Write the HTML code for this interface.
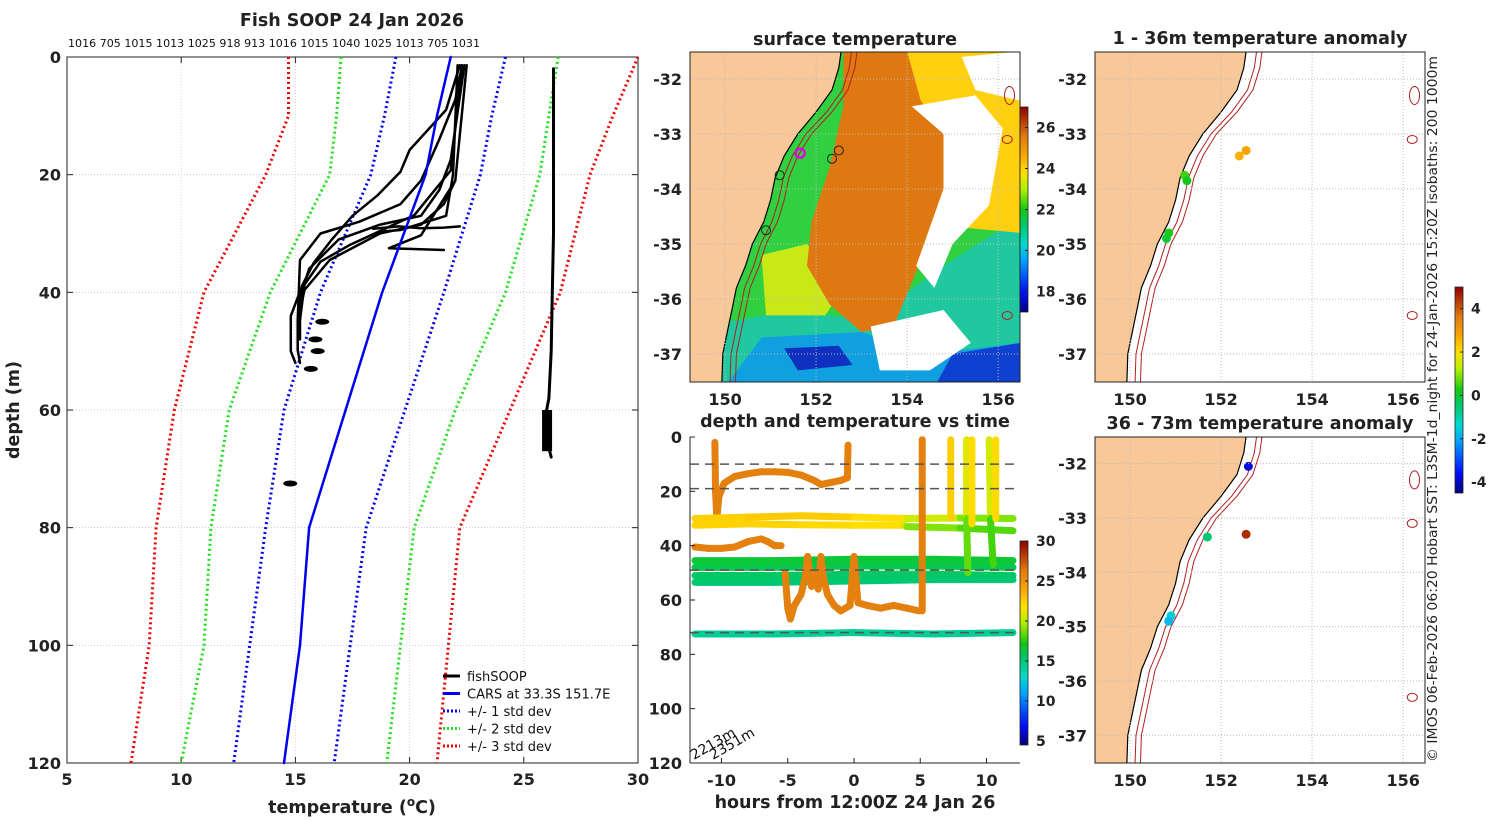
<!DOCTYPE html>
<html><head><meta charset="utf-8">
<style>
html,body{margin:0;padding:0;background:#fff;}
svg{display:block;font-family:"DejaVu Sans","Liberation Sans",sans-serif;}
.t{font-weight:bold;font-size:17.5px;fill:#222;}
.tk{font-weight:bold;font-size:16px;fill:#222;}
</style></head><body>
<svg id="fig" width="1500" height="820" viewBox="0 0 1500 820" xmlns="http://www.w3.org/2000/svg">
<defs>
<linearGradient id="jet" x1="0" y1="1" x2="0" y2="0">
<stop offset="0" stop-color="#000080"/><stop offset="0.1" stop-color="#0010ff"/><stop offset="0.25" stop-color="#00a0ff"/><stop offset="0.33" stop-color="#00d8d0"/><stop offset="0.42" stop-color="#00c870"/><stop offset="0.5" stop-color="#14c814"/><stop offset="0.6" stop-color="#b4f000"/><stop offset="0.68" stop-color="#ffe000"/><stop offset="0.76" stop-color="#f8a800"/><stop offset="0.86" stop-color="#e07810"/><stop offset="1" stop-color="#900000"/>
</linearGradient>
<clipPath id="cMap1"><rect x="690" y="52" width="330" height="330"/></clipPath>
<clipPath id="cMap2"><rect x="1095" y="52" width="330" height="330"/></clipPath>
<clipPath id="cMap3"><rect x="1095" y="437" width="330" height="326"/></clipPath>
</defs>
<g id="left"></g>
<g id="sst"></g>
<g id="ts"></g>
<g id="an1"></g>
<g id="an2"></g>
<text transform="translate(1437,762) rotate(-90)" font-size="13" fill="#222" textLength="706" lengthAdjust="spacingAndGlyphs">© IMOS 06-Feb-2026 06:20 Hobart SST: L3SM-1d_night for 24-Jan-2026 15:20Z isobaths: 200  1000m</text>
</svg>
<script>
// ---------- data: profile panel ----------
const depthLevels=[0,10,20,40,60,80,100,120];
const carsTemp=[21.8,21.2,20.7,18.8,17.2,15.6,15.2,14.5];
const plus1=[24.2,23.6,23.1,21.5,19.8,18.1,17.4,16.7];
const minus1=[19.4,18.9,18.3,16.1,14.5,13.7,13.0,12.3];
const plus2=[26.5,26.1,25.7,24.2,22.0,20.2,19.6,19.0];
const minus2=[17.0,16.8,16.5,13.9,12.1,11.3,11.0,10.0];
const plus3=[30.0,28.9,27.9,26.6,24.4,22.2,21.7,21.2];
const minus3=[14.7,14.7,13.7,11.0,9.7,8.9,8.6,7.8];
const profA_t=[22.2,21.6,20.0,19.6,18.6,17.5,16.6,15.8,15.3,14.8,14.8,15.0];
const profA_d=[1.4,9,15.8,19.5,23.5,27,31,35,38.8,44,50,52];
const profB_t=[22.3,22.0,21.3,20.5,19.6,17.8,16.1,15.2,15.1,15.1,15.2];
const profB_d=[1.4,7.3,14,21,25,28,30,34.5,44.7,49.8,52];
const profC_t=[22.4,21.8,21.3,20.5,18.7,16.9,15.6,15.2,15.1];
const profC_d=[1.4,17.5,22.6,27,28.5,31,36,41,46];
const profD_t=[22.5,22.0,21.5,20.5,18.7,16.5,15.4,15.2,15.2];
const profD_d=[1.4,21,25,28.5,30,34.5,39.6,43,48];
const profE_t=[22.3,21.8,20.2,17.4,16.1,15.4,15.2];
const profE_d=[1.4,19.3,26.9,31.9,34.8,38.7,44.7];
const profF_t=[22.1,21.9,21.6,19.6,18.7];
const profF_d=[1.4,20,27,29.4,29.7];
const profG_t=[22.0,20.5,19.1,21.5];
const profG_d=[21,30.3,32.5,32.8];
const profH_t=[18.4,19.5,20.5,21.5,22.2];
const profH_d=[29.2,28.8,29.1,29.0,28.8];
const vertDepths=[2,10,20,30,40,50,58,62,65,68];
const vertTemps=[26.3,26.3,26.3,26.3,26.25,26.2,26.1,25.9,26.0,26.2];
const blobT=[16.0,15.7,15.8,15.5,14.6];
const blobD=[45,48,50,53,72.5];
const topLabels="1016 705 1015 1013 1025 918 913 1016 1015 1040 1025 1013 705 1031";
const tempTicks=[5,10,15,20,25,30];
const depthTicks=[0,20,40,60,80,100,120];

// ---------- data: time series ----------
const hourTicks=[-10,-5,0,5,10];
const tsDepthTicks=[0,20,40,60,80,100,120];
const tsCbTicks=[5,10,15,20,25,30];
const sstCbTicks=[18,20,22,24,26];
const anCbTicks=[-4,-2,0,2,4];
const tsSeries=[
 {h:[-10.5,-10.45,-10.35,-10.2,-9.8,-9,-8,-7,-6,-5,-4,-3,-2.5,-2,-1,-0.5,-0.45],d:[2,20,30,22,17,14.5,13.5,12.8,12.8,13,14,16,17.5,17,16,15,3],t:26},
 {h:[-12,-8,-4,0,4,8,12],d:[30,29.5,29,29.5,30,29.8,30],t:[22.3,22.5,22.8,22.3,21.5,19.5,18.5]},
 {h:[-12,-8,-4,0,3.8,4,8,12],d:[32.5,32,32.3,32.5,32.5,33,33.5,34.5],t:[22.3,22.4,22.2,22.0,21.8,19.5,18.5,18]},
 {h:[-12,-11,-10,-9,-8,-7,-6.5,-6,-5.5],d:[40.5,41,41,40.5,38.5,37.5,38.5,40,40],t:26},
 {h:[-12,-6,0,6,12],d:[45.5,45.5,45,45,45.5],t:16.5},
 {h:[-12,-6,0,6,12],d:[48,48,47.5,47.5,48],t:16},
 {h:[-12,-6,0,6,12],d:[51,51,50.5,50.5,51],t:15.5},
 {h:[-12,-6,0,6,12],d:[53.5,53.5,53,52.5,52.5],t:15.2},
 {h:[-5.2,-5,-4.8,-4.5,-4,-3.7,-3.5,-3.2,-3,-2.7,-2.5,-2.3,-2,-1.5,-1,-0.3,0,0.3,1,2,3,4,4.9],d:[50,63,67,62,58,52,44,55,50,56,44,52,58,62,64,62,44,61,62,63,62,63,64],t:26},
 {h:[-12,-6,0,6,12],d:[72.5,72.5,72,72.5,72],t:14.3},
 {h:[5.15,5.15],d:[1,64],t:26},
 {h:[7.3,7.3],d:[1,30],t:22.5},
 {h:[8.5,8.5,8.6],d:[1,30,50],t:[22,20,17]},
 {h:[8.9,8.9],d:[1,32],t:22},
 {h:[10.2,10.3,10.5],d:[1,30,47],t:[22.5,19,17]},
 {h:[10.7,10.7],d:[1,30],t:22}
];
const tsDashes=[10,19,49,72];

// ---------- data: maps ----------
const coastLat=[-31.5,-31.8,-32.2,-32.6,-33.0,-33.4,-33.8,-34.2,-34.6,-35.0,-35.4,-35.8,-36.2,-36.6,-37.0,-37.5];
const coastLon=[152.55,152.5,152.35,152.0,151.6,151.3,151.1,151.0,150.85,150.6,150.45,150.25,150.15,150.05,149.95,149.93];
const anom1Lon=[151.2,151.25,150.85,150.8,152.4,152.55];
const anom1Lat=[-33.75,-33.85,-34.8,-34.9,-33.4,-33.3];
const anom1Val=[0.5,0.2,0.3,0.0,2.6,2.8];
const anom2Lon=[152.6,151.7,152.55,150.9,150.85];
const anom2Lat=[-32.05,-33.35,-33.3,-34.8,-34.9];
const anom2Val=[-3.8,-0.5,4.5,-1.5,-1.8];
const sstCircLon=[151.65,152.35,152.5,151.2,150.9];
const sstCircLat=[-33.35,-33.45,-33.3,-33.75,-34.75];

const NS="http://www.w3.org/2000/svg";
function mk(tag,attrs,parent){const e=document.createElementNS(NS,tag);for(const k in attrs)e.setAttribute(k,attrs[k]);if(parent)parent.appendChild(e);return e;}
function jet(t,lo,hi){
 const stops=[[0,[0,0,128]],[0.1,[0,16,255]],[0.25,[0,160,255]],[0.33,[0,216,208]],[0.42,[0,200,112]],[0.5,[20,200,20]],[0.6,[180,240,0]],[0.68,[255,224,0]],[0.76,[248,168,0]],[0.86,[224,120,16]],[1,[144,0,0]]];
 let f=(t-lo)/(hi-lo);f=Math.max(0,Math.min(1,f));
 for(let i=1;i<stops.length;i++){if(f<=stops[i][0]){const a=stops[i-1],b=stops[i],u=(f-a[0])/(b[0]-a[0]);const c=a[1].map((v,j)=>Math.round(v+(b[1][j]-v)*u));return `rgb(${c})`;}}
 return 'rgb(144,0,0)';
}

// ---------- profile panel ----------
(function(){
 const g=document.getElementById('left');
 const X0=67,X1=638,Y0=57,Y1=763;
 const sx=t=>X0+(t-5)/25*(X1-X0), sy=d=>Y0+d/120*(Y1-Y0);
 let e=mk('rect',{x:X0,y:Y0,width:X1-X0,height:Y1-Y0,fill:'#fff',stroke:'#222','stroke-width':1},g);
 
 tempTicks.forEach(t=>{
  if(t>5&&t<30){e=mk('line',{x1:sx(t),x2:sx(t),y1:Y0,y2:Y1,stroke:'#f0c8c8','stroke-width':1,'stroke-dasharray':'1,2'},g);
   }
  mk('line',{x1:sx(t),x2:sx(t),y1:Y1,y2:Y1-6,stroke:'#222'},g);mk('line',{x1:sx(t),x2:sx(t),y1:Y0,y2:Y0+6,stroke:'#222'},g);
  e=mk('text',{x:sx(t),y:Y1+22,'text-anchor':'middle',class:'tk'},g);e.textContent=t;
  
 });
 depthTicks.forEach(d=>{
  if(d>0&&d<120){e=mk('line',{x1:X0,x2:X1,y1:sy(d),y2:sy(d),stroke:'#c8c8f0','stroke-width':1,'stroke-dasharray':'1,2'},g);
   }
  mk('line',{x1:X0,x2:X0+6,y1:sy(d),y2:sy(d),stroke:'#222'},g);mk('line',{x1:X1,x2:X1-6,y1:sy(d),y2:sy(d),stroke:'#222'},g);
  e=mk('text',{x:X0-6,y:sy(d)+6,'text-anchor':'end',class:'tk'},g);e.textContent=d;
  
 });
 e=mk('text',{x:352,y:26,'text-anchor':'middle',class:'t'},g);e.textContent='Fish SOOP 24 Jan 2026';
 
 e=mk('text',{x:68,y:47,'font-size':'10.5',fill:'#111',textLength:'412',lengthAdjust:'spacingAndGlyphs'},g);e.textContent=topLabels;
 
 e=mk('text',{x:352,y:813,'text-anchor':'middle',class:'t'},g);e.innerHTML='temperature (<tspan font-size="12" dy="-7">o</tspan><tspan dy="7">C)</tspan>';
 
 e=mk('text',{transform:`translate(19,410) rotate(-90)`,'text-anchor':'middle',class:'t'},g);e.textContent='depth (m)';
 
 function line(ts,ds,col,w,dash,name){const p=ts.map((t,i)=>sx(t).toFixed(1)+','+sy(ds[i]).toFixed(1)).join(' ');
  const a={points:p,fill:'none',stroke:col,'stroke-width':w,'stroke-linejoin':'round','stroke-linecap':'round'};if(dash){a['stroke-dasharray']=dash;a['stroke-linecap']='butt';}
  const el=mk('polyline',a,g);return el;}
 line(minus3,depthLevels,'#f00000',3,'2,3','minus-3-std-line');line(plus3,depthLevels,'#f00000',3,'2,3','plus-3-std-line');
 line(minus2,depthLevels,'#20e020',3,'2,3','minus-2-std-line');line(plus2,depthLevels,'#20e020',3,'2,3','plus-2-std-line');
 line(minus1,depthLevels,'#0000f0',3,'2,3','minus-1-std-line');line(plus1,depthLevels,'#0000f0',3,'2,3','plus-1-std-line');
 [[profA_t,profA_d],[profB_t,profB_d],[profC_t,profC_d],[profD_t,profD_d],[profE_t,profE_d],[profF_t,profF_d],[profG_t,profG_d],[profH_t,profH_d]].forEach(p=>line(p[0],p[1],'#000',2.5,null,'fishsoop-profile'));
 line(vertTemps,vertDepths,'#000',3,null,'fishsoop-profile-offshore');
 blobT.forEach((t,i)=>{e=mk('ellipse',{cx:sx(t)+4,cy:sy(blobD[i]),rx:7,ry:3,fill:'#000'},g);});
 e=mk('rect',{x:sx(25.8),y:sy(60),width:10,height:sy(67)-sy(60),fill:'#000'},g);
 line(carsTemp,depthLevels,'#0000f0',2.5,null,'cars-line');
 const L=mk('g',{},g);
 const items=[['fishSOOP','#000',null],['CARS at 33.3S 151.7E','#0000f0',null],['+/- 1 std dev','#0000f0','2,2'],['+/- 2 std dev','#20e020','2,2'],['+/- 3 std dev','#f00000','2,2']];
 items.forEach((it,i)=>{const y=676+i*17.5;const a={x1:443,x2:460,y1:y,y2:y,stroke:it[1],'stroke-width':3};if(it[2])a['stroke-dasharray']=it[2];
  let s=mk('line',a,L);
  let t=mk('text',{x:467,y:y+5,'font-size':'13',fill:'#111'},L);t.textContent=it[0];});
})();

// ---------- map helpers ----------
const LON0=149.23,LON1=156.48,LAT0=-31.51,LAT1=-37.51;
function proj(x0,y0,w,h){return [lon=>x0+(lon-LON0)/(LON1-LON0)*w, lat=>y0+(lat-LAT0)/(LAT1-LAT0)*h];}
function drawMapBase(g,x0,y0,w,h,clip,oceanFill){
 const [px,py]=proj(x0,y0,w,h);
 const cg=mk('g',{'clip-path':`url(#${clip})`},g);
 mk('rect',{x:x0,y:y0,width:w,height:h,fill:oceanFill},cg);
 return {px,py,cg};
}
function drawCoast(cg,px,py,x0,y0,h){
 let pts=`${x0-5},${y0-5} `+coastLon.map((lo,i)=>px(lo).toFixed(1)+','+py(coastLat[i]).toFixed(1)).join(' ')+` ${px(149.93)},${y0+h+5} ${x0-5},${y0+h+5}`;
 let e=mk('polygon',{points:pts,fill:'#f9c898',stroke:'#000','stroke-width':1.2},cg);
 
 [0.18,0.3].forEach(off=>{const p=coastLon.map((lo,i)=>px(lo+off+(i<4?0.05:0)).toFixed(1)+','+py(coastLat[i]).toFixed(1)).join(' ');
  e=mk('polyline',{points:p,fill:'none',stroke:'#b02020','stroke-width':1},cg);});
 [[156.25,-32.3],[156.2,-33.1],[156.2,-36.3]].forEach(q=>{e=mk('ellipse',{cx:px(q[0]),cy:py(q[1]),rx:5,ry:q[1]>-33?9:4,fill:'none',stroke:'#b02020','stroke-width':1},cg);
  });
}
function drawAxes(g,px,py,x0,y0,w,h,showX){
 let e;
 [150,152,154,156].forEach(lo=>{e=mk('line',{x1:px(lo),x2:px(lo),y1:y0,y2:y0+h,stroke:'#bbb','stroke-dasharray':'1,2'},g);
  if(showX){e=mk('text',{x:px(lo),y:y0+h+23,'text-anchor':'middle',class:'tk'},g);e.textContent=lo;}});
 [-32,-33,-34,-35,-36,-37].forEach(la=>{e=mk('line',{x1:x0,x2:x0+w,y1:py(la),y2:py(la),stroke:'#bbb','stroke-dasharray':'1,2'},g);
  e=mk('text',{x:x0-8,y:py(la)+6,'text-anchor':'end',class:'tk'},g);e.textContent=la;});
}
function colorbar(g,x,y,w,h,lo,hi,ticks,name){
 let e=mk('rect',{x:x,y:y,width:w,height:h,fill:'url(#jet)',stroke:'#222','stroke-width':0.8},g);
 ticks.forEach(t=>{const yy=y+h-(t-lo)/(hi-lo)*h;mk('line',{x1:x+w-3,x2:x+w,y1:yy,y2:yy,stroke:'#222'},g);
  e=mk('text',{x:x+w+8,y:yy+5,'font-size':'14','font-weight':'bold',fill:'#222'},g);e.textContent=t;});
}

// ---------- SST map ----------
(function(){
 const g=document.getElementById('sst');const x0=690,y0=52,w=330,h=330;
 const {px,py,cg}=drawMapBase(g,x0,y0,w,h,'cMap1','#30d040');
 const P=(arr)=>arr.map(q=>px(q[0]).toFixed(1)+','+py(q[1]).toFixed(1)).join(' ');
 function poly(arr,fill,name){const e=mk('polygon',{points:P(arr),fill:fill},cg);}
 poly([[154.6,-35.5],[156.5,-34.5],[156.5,-37.6],[149.2,-37.6],[149.5,-36.5],[151.5,-36.2],[153.2,-36.4]],'#20c8a0','sst-cool-water');
 poly([[150.8,-36.7],[153.0,-36.6],[154.5,-37.0],[156.5,-36.8],[156.5,-37.6],[150.0,-37.6]],'#10a0e0','sst-cold-water');
 poly([[151.3,-36.9],[152.5,-36.85],[152.8,-37.2],[151.6,-37.3]],'#1030c0','sst-coldest-water');
 poly([[155.0,-37.0],[156.5,-36.8],[156.5,-37.6],[154.6,-37.6]],'#1040d0','sst-cold-water-east');
 poly([[150.8,-35.2],[151.8,-35.0],[152.6,-35.8],[152.2,-36.3],[150.9,-36.3]],'#c8e818','sst-warm-shelf');
 poly([[153.7,-31.5],[156.5,-31.5],[156.5,-34.8],[155.2,-34.7],[154.6,-35.0]],'#ffd010','sst-yellow-patch');
 poly([[152.6,-31.5],[154.0,-31.5],[154.3,-32.4],[154.9,-33.0],[154.8,-34.5],[154.2,-35.5],[153.7,-36.5],[153.0,-36.6],[152.3,-36.1],[151.8,-35.4],[151.9,-34.6],[152.3,-33.6],[152.6,-32.5]],'#df7810','sst-warm-current');
 poly([[154.1,-32.5],[155.5,-32.3],[156.1,-32.9],[155.8,-34.3],[155.0,-35.0],[154.6,-35.8],[154.2,-35.4],[154.8,-34.0],[154.8,-33.0]],'#ffffff','sst-cloud-mask');
 poly([[155.2,-31.6],[156.5,-31.5],[156.5,-32.4],[155.5,-32.2]],'#ffffff','sst-cloud-mask');
 poly([[153.2,-36.5],[154.8,-36.2],[155.4,-36.8],[154.5,-37.3],[153.4,-37.3]],'#ffffff','sst-cloud-mask');
 drawCoast(cg,px,py,x0,y0,h);
 sstCircLon.forEach((lo,i)=>{const e=mk('circle',{cx:px(lo),cy:py(sstCircLat[i]),r:4.5,fill:'none',stroke:i==0?'#e000e0':'#222','stroke-width':i==0?2.5:1},cg);});
 drawAxes(g,px,py,x0,y0,w,h,true);
 mk('rect',{x:x0,y:y0,width:w,height:h,fill:'none',stroke:'#222'},g);
 let e=mk('text',{x:855,y:45,'text-anchor':'middle',class:'t'},g);e.textContent='surface temperature';
 colorbar(g,1020,107,8,205,17,27,sstCbTicks,'sst-colorbar');
})();

// ---------- anomaly maps ----------
function anomMap(id,y0,h,clip,lons,lats,vals,title,showX){
 const g=document.getElementById(id);const x0=1095,w=330;
 const {px,py,cg}=drawMapBase(g,x0,y0,w,h,clip,'#ffffff');
 drawCoast(cg,px,py,x0,y0,h);
 drawAxes(g,px,py,x0,y0,w,h,showX);
 lons.forEach((lo,i)=>{const e=mk('circle',{cx:px(lo),cy:py(lats[i]),r:4.5,fill:jet(vals[i],-4.5,5)},cg);});
 mk('rect',{x:x0,y:y0,width:w,height:h,fill:'none',stroke:'#222'},g);
 const e=mk('text',{x:1260,y:y0-8,'text-anchor':'middle',class:'t'},g);e.textContent=title;
}
anomMap('an1',52,330,'cMap2',anom1Lon,anom1Lat,anom1Val,'1 - 36m temperature anomaly',true);
anomMap('an2',437,326,'cMap3',anom2Lon,anom2Lat,anom2Val,'36 - 73m temperature anomaly',false);
colorbar(document.getElementById('an1'),1455,287,8,206,-4.5,5,anCbTicks,'anomaly-colorbar');
(function(){const g=document.getElementById('an2');[150,152,154,156].forEach(lo=>{const x=1095+(lo-LON0)/(LON1-LON0)*330;const e=mk('text',{x:x,y:786,'text-anchor':'middle',class:'tk'},g);e.textContent=lo;});})();

// ---------- time series ----------
(function(){
 const g=document.getElementById('ts');const X0=690,X1=1020,Y0=437,Y1=763;
 const sx=hh=>854+hh*13.25, sy=d=>Y0+d/120*(Y1-Y0);
 let e=mk('rect',{x:X0,y:Y0,width:X1-X0,height:Y1-Y0,fill:'#fff'},g);
 tsSeries.forEach(s=>{
  for(let i=0;i<s.h.length-1;i++){
   const t=Array.isArray(s.t)?(s.t[i]+s.t[i+1])/2:s.t;
   e=mk('line',{x1:sx(s.h[i]),y1:sy(s.d[i]),x2:sx(s.h[i+1]),y2:sy(s.d[i+1]),stroke:jet(t,4.5,30),'stroke-width':7,'stroke-linecap':'round'},g);
   
  }
 });
 tsDashes.forEach(d=>{e=mk('line',{x1:X0,x2:X1,y1:sy(d),y2:sy(d),stroke:'#555','stroke-width':1.5,'stroke-dasharray':'9,6'},g);});
 mk('line',{x1:X0,x2:X0,y1:Y0,y2:Y1,stroke:'#222'},g);mk('line',{x1:X0,x2:X1,y1:Y1,y2:Y1,stroke:'#222'},g);
 hourTicks.forEach(hh=>{mk('line',{x1:sx(hh),x2:sx(hh),y1:Y1,y2:Y1-5,stroke:'#222'},g);
  e=mk('text',{x:sx(hh),y:Y1+23,'text-anchor':'middle',class:'tk'},g);e.textContent=hh;});
 tsDepthTicks.forEach(d=>{mk('line',{x1:X0,x2:X0+5,y1:sy(d),y2:sy(d),stroke:'#222'},g);
  e=mk('text',{x:X0-8,y:sy(d)+6,'text-anchor':'end',class:'tk'},g);e.textContent=d;});
 e=mk('text',{x:855,y:427,'text-anchor':'middle',class:'t'},g);e.textContent='depth and temperature vs time';
 e=mk('text',{x:855,y:808,'text-anchor':'middle',class:'t'},g);e.textContent='hours from 12:00Z 24 Jan 26';
 e=mk('text',{transform:'translate(694,760) rotate(-30)','font-size':'14',fill:'#111'},g);e.textContent='2213m';
 e=mk('text',{transform:'translate(713,760) rotate(-30)','font-size':'14',fill:'#111'},g);e.textContent='2351m';
 colorbar(g,1020,541,8,204,4.5,30,tsCbTicks,'ts-colorbar');
})();
</script>
</body></html>
